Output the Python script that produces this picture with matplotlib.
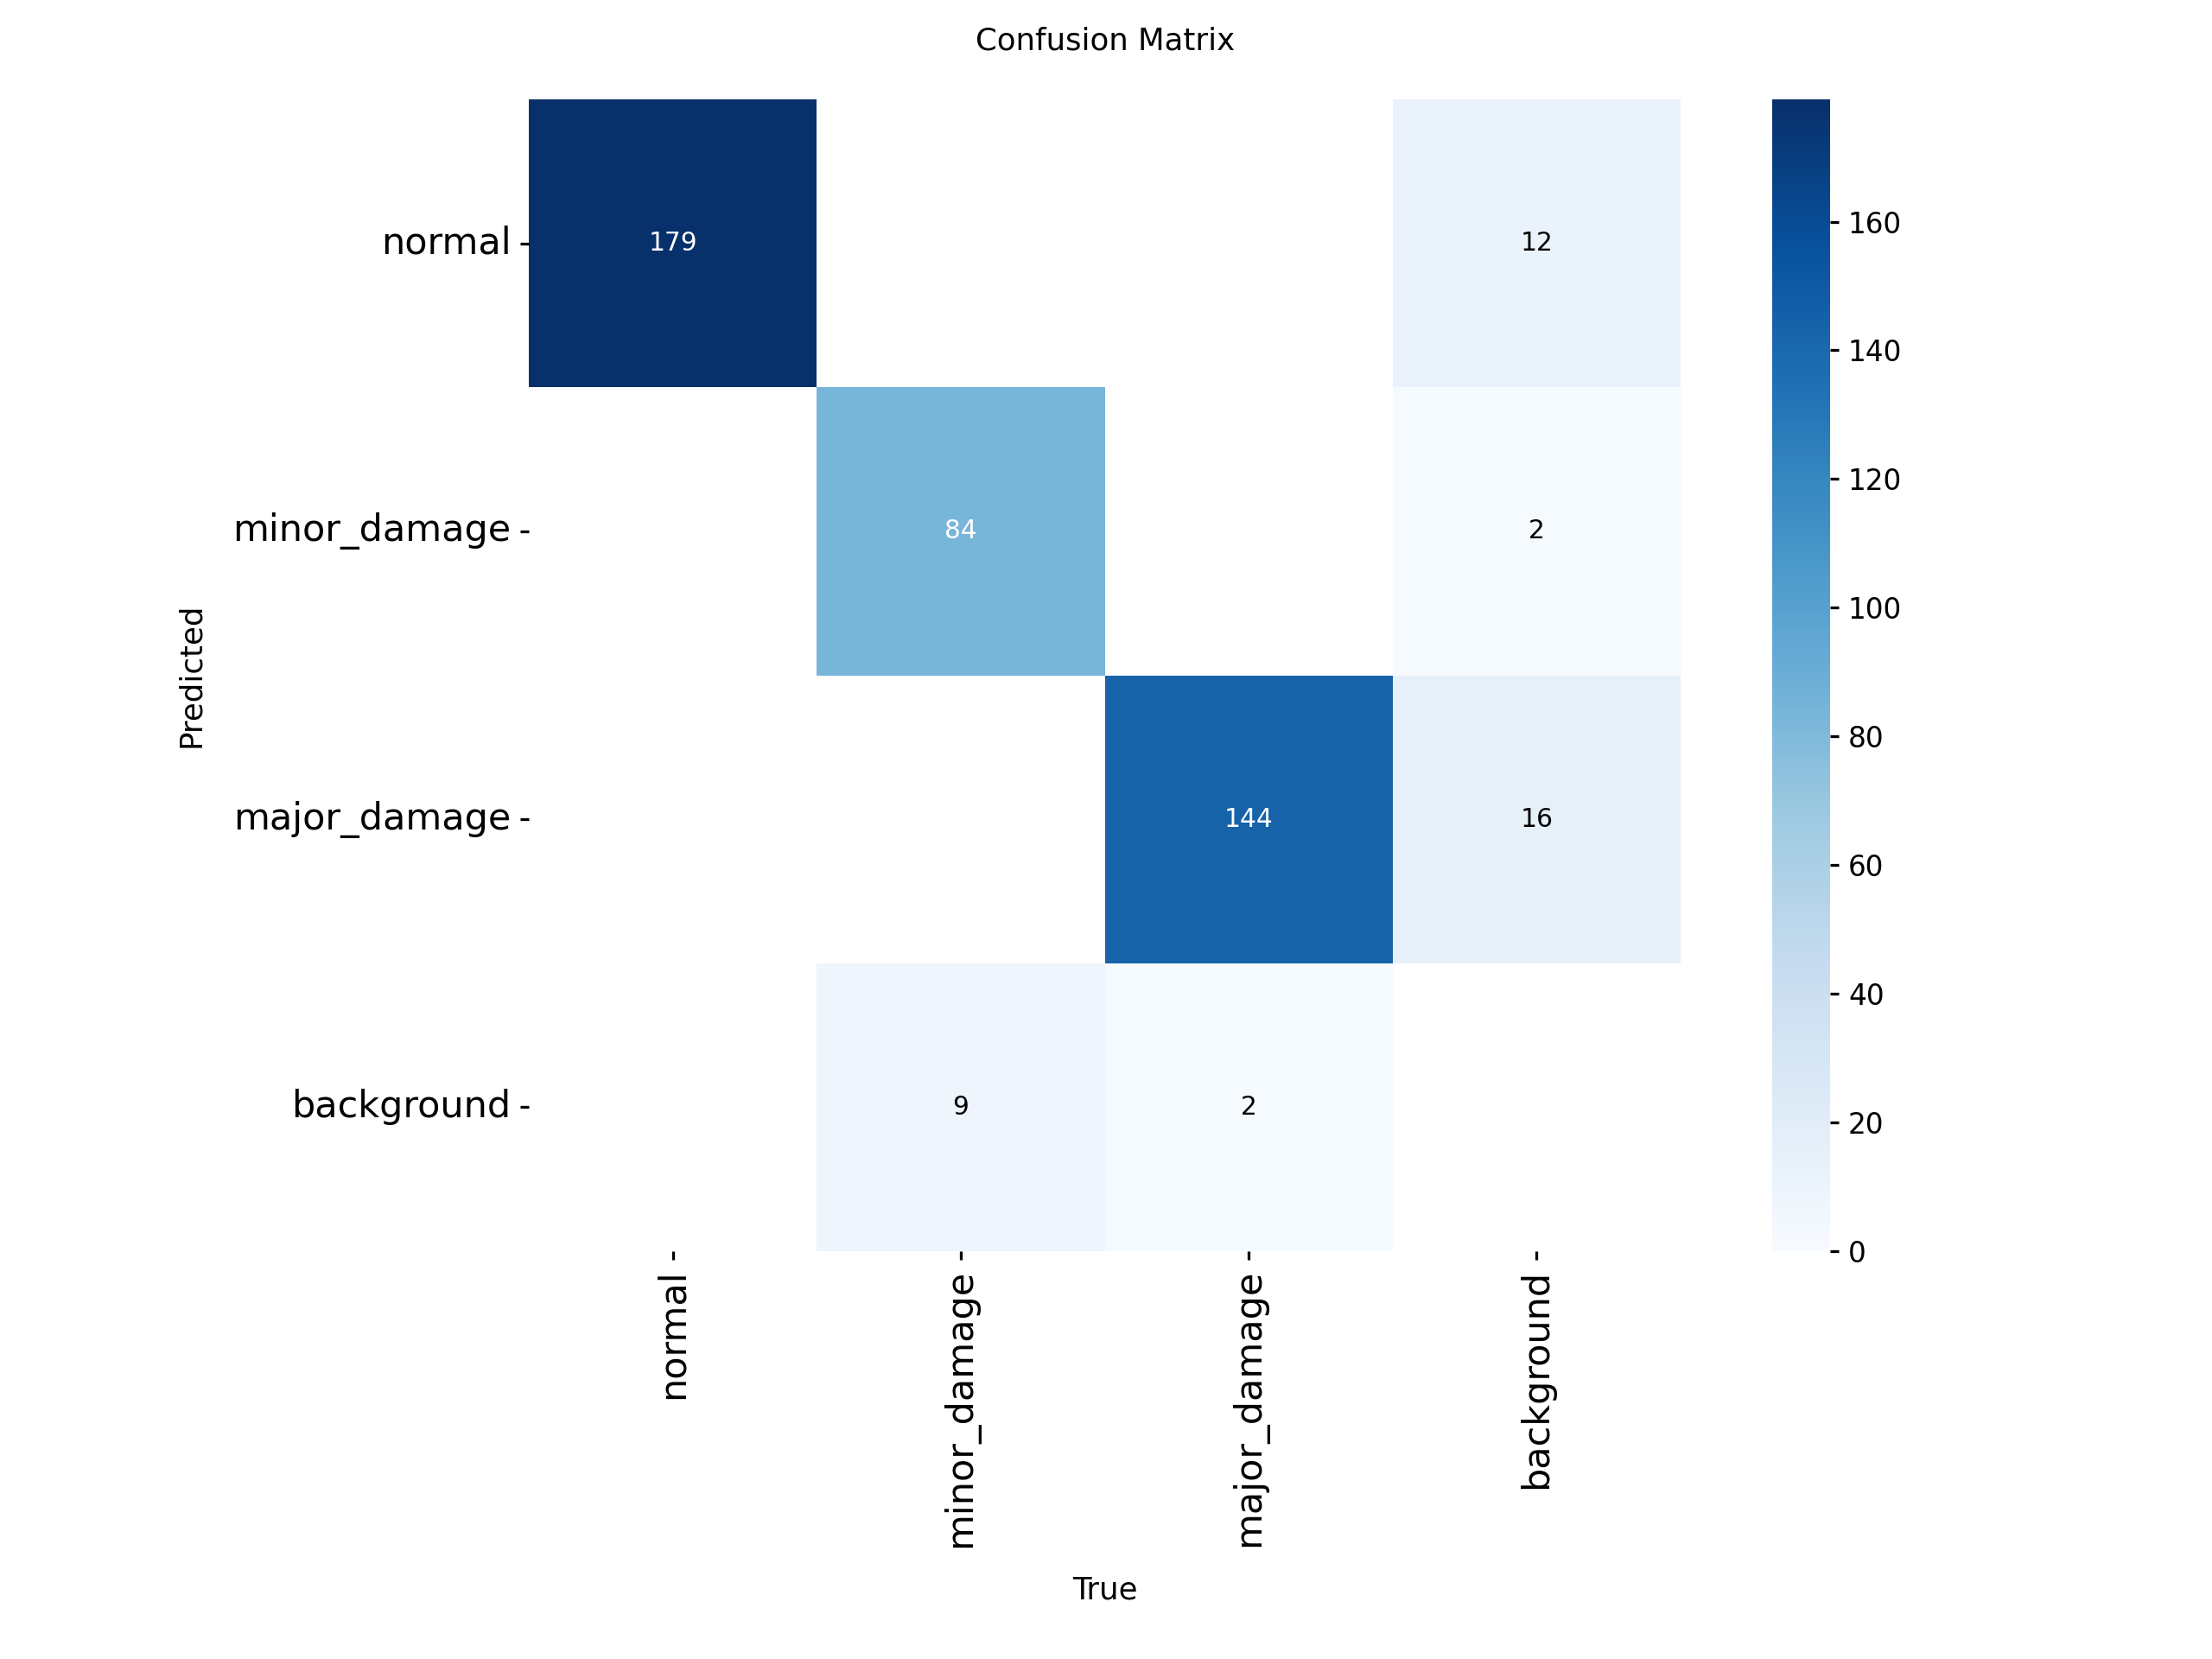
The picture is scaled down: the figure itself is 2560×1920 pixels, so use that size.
import numpy as np
import seaborn as sns
import matplotlib
matplotlib.use("Agg")
import matplotlib.pyplot as plt

# noms des classes (lignes = prédit, colonnes = vrai)
classes = ["normal", "minor_damage", "major_damage", "background"]

# valeurs de la matrice, nan = case vide
row_normal = [179, np.nan, np.nan, 12]
row_minor = [np.nan, 84, np.nan, 2]
row_major = [np.nan, np.nan, 144, 16]
row_background = [np.nan, 9, 2, np.nan]

matrice = np.array([row_normal, row_minor, row_major, row_background], dtype=float)

plt.rcParams["xtick.major.size"] = 3.5
plt.rcParams["ytick.major.size"] = 3.5
plt.rcParams["xtick.major.width"] = 1.1
plt.rcParams["ytick.major.width"] = 1.1

fig = plt.figure(figsize=(12, 9))
# placement de la matrice et de la barre de couleur (en fraction de la figure)
ax = fig.add_axes([0.2391, 0.2458, 0.5207, 0.6943])
cax = fig.add_axes([0.8012, 0.2458, 0.0262, 0.6943])

hm = sns.heatmap(matrice, ax=ax, cbar_ax=cax, annot=True, annot_kws={"size": 10}, cmap="Blues",
                 fmt=".0f", vmin=0.0,
                 xticklabels=classes, yticklabels=classes)
hm.set_facecolor((1, 1, 1))

# texte blanc sur les cases foncées, noir sinon
vmax = np.nanmax(matrice)
for t in ax.texts:
    val = float(t.get_text())
    t.set_color("white" if val / vmax > 0.4 else "black")

ax.set_xticklabels(classes, rotation=90, fontsize=14.5)
ax.set_yticklabels(classes, rotation=0, fontsize=14.5)

#colorbar
cax.tick_params(labelsize=11)

ax.set_xlabel("True", fontsize=12, labelpad=11)
ax.set_ylabel("Predicted", fontsize=12, labelpad=10.5)
ax.set_title("Confusion Matrix", fontsize=12, pad=19.5)

fig.savefig("out.png", dpi=2560 / 12)
